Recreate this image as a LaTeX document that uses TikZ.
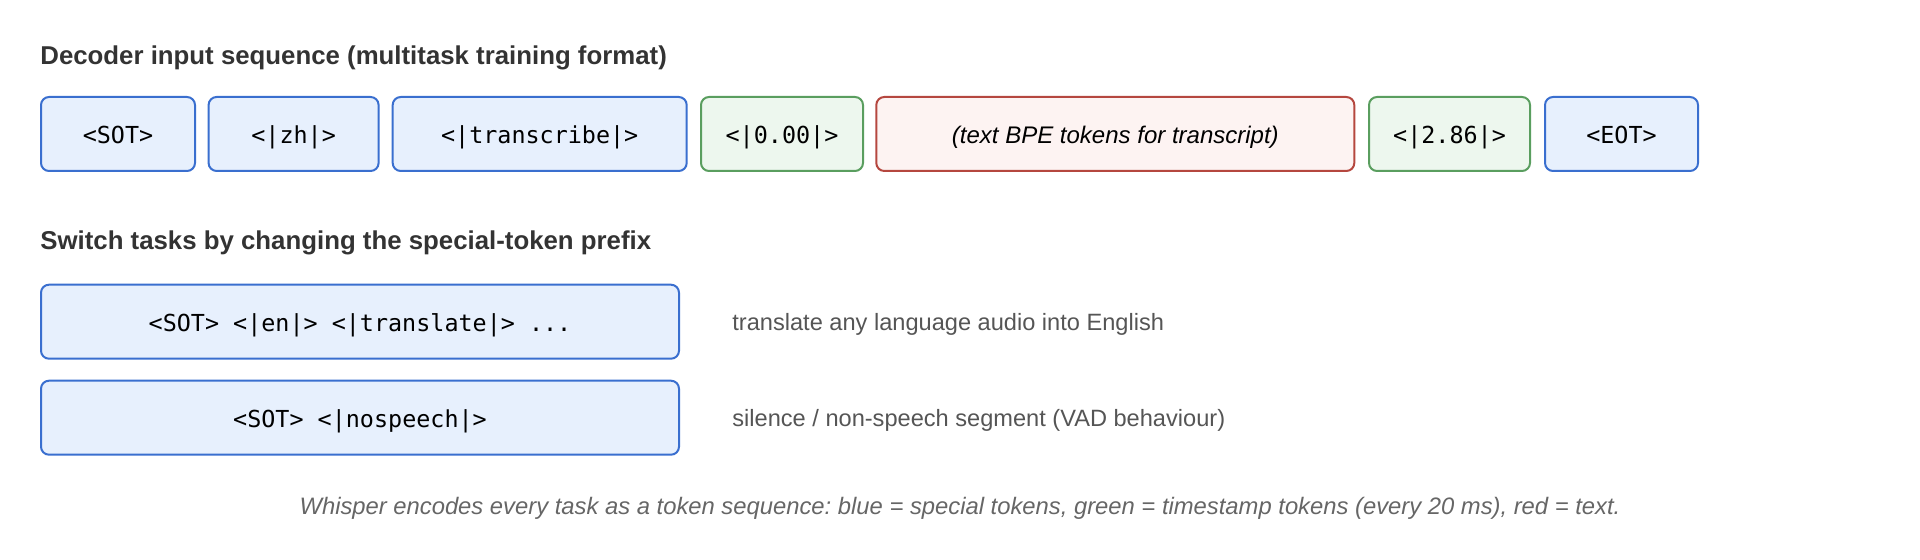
\documentclass[tikz,border=0pt]{standalone}
\usepackage{fontspec}
\setmainfont{Liberation Sans}
\setmonofont{DejaVu Sans Mono}
\frenchspacing
\newlength{\du}
\setlength{\du}{0.5pt}
\definecolor{headcolor}{HTML}{333333}
\definecolor{notecolor}{HTML}{555555}
\definecolor{capcolor}{HTML}{666666}
\definecolor{spline}{HTML}{3A6FCF}
\definecolor{spfill}{HTML}{E7F0FD}
\definecolor{tsline}{HTML}{5A9E5F}
\definecolor{tsfill}{HTML}{EDF7EE}
\definecolor{txline}{HTML}{B5473F}
\definecolor{txfill}{HTML}{FDF3F2}
\tikzset{
  tokbox/.style={draw, rounded corners=8\du, line width=2\du, inner sep=0pt,
    minimum height=74\du, text height=9.5pt, text depth=0pt,
    font=\fontsize{11.7}{14}\ttfamily},
  special/.style={tokbox, draw=spline, fill=spfill},
  stamp/.style={tokbox, draw=tsline, fill=tsfill},
  textok/.style={tokbox, draw=txline, fill=txfill, font=\fontsize{12}{14}\itshape},
  heading/.style={anchor=base west, inner sep=0pt, text=headcolor, font=\fontsize{12.9}{15}\bfseries},
  note/.style={anchor=base west, inner sep=0pt, text=notecolor, font=\fontsize{11.8}{14}\selectfont},
}

\begin{document}
\begin{tikzpicture}
\pgftransformxscale{1.000000}
\pgftransformyscale{-1.000000}
\useasboundingbox (0\du,0\du) rectangle (1920\du,560\du);
% decoder input sequence
\node[heading] (headseq) at (40\du,64.5\du){Decoder input sequence (multitask training format)};
\node[special, minimum width=154\du] (sot) at (118\du,134\du){<SOT>};
\node[special, minimum width=170\du] (lang) at (293.6\du,134\du){<|zh|>};
\node[special, minimum width=294\du] (task) at (539.7\du,134\du){<|transcribe|>};
\node[stamp, minimum width=162\du] (tstart) at (782\du,134\du){<|0.00|>};
\node[textok, minimum width=478\du] (bpe) at (1115.3\du,134\du){(text BPE tokens for transcript)};
\node[stamp, minimum width=161\du] (tend) at (1449.5\du,134\du){<|2.86|>};
\node[special, minimum width=153\du] (eot) at (1621.5\du,134\du){<EOT>};
% switch tasks
\node[heading] (headswitch) at (40\du,250\du){Switch tasks by changing the special-token prefix};
\node[special, minimum width=638\du] (translate) at (360\du,321.7\du){<SOT> <|en|> <|translate|> ...};
\node[note] (translatenote) at (732\du,331\du){translate any language audio into English};
\node[special, minimum width=638\du] (nospeech) at (360\du,417.7\du){<SOT> <|nospeech|>};
\node[note] (nospeechnote) at (732\du,427\du){silence / non-speech segment (VAD behaviour)};
% caption
\node[anchor=base, inner sep=0pt, text=capcolor, font=\fontsize{11.9}{14}\itshape] (caption) at (960\du,514\du){Whisper encodes every task as a token sequence: blue = special tokens, green = timestamp tokens (every 20 ms), red = text.};
\end{tikzpicture}
\end{document}
